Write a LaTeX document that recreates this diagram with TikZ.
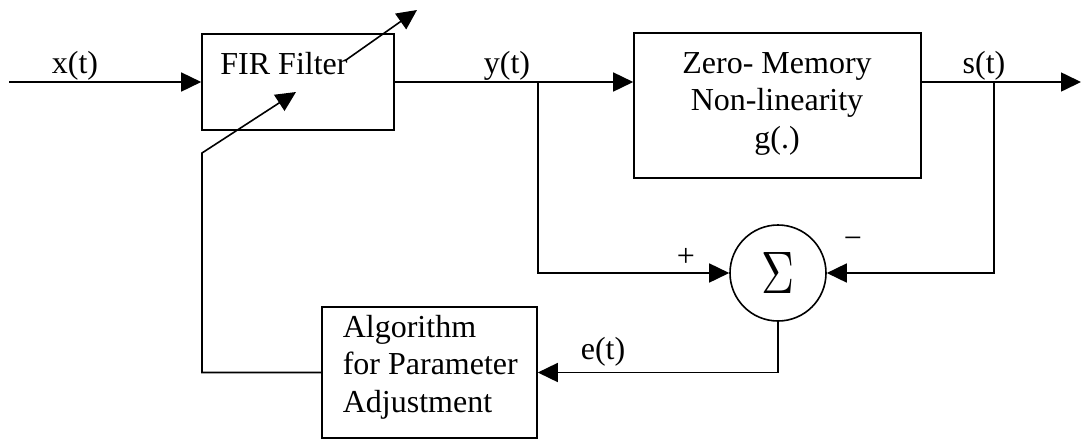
\documentclass[tikz,border=0pt]{standalone}
\usepackage{fontspec}
\usepackage{graphicx}
\setmainfont{Liberation Serif}
\usetikzlibrary{arrows.meta}
\begin{document}
\begin{tikzpicture}[x=1pt,y=-1pt,
  line width=1.6pt,
  >={Triangle[length=20pt,width=19pt]},
  blk/.style={draw, rectangle, inner sep=0pt, line width=1.6pt},
  lbl/.style={inner sep=0pt, font=\fontsize{32}{37.5}\selectfont},
]
\useasboundingbox (0,0) rectangle (1081,440);

% blocks
\node[blk, minimum width=192pt, minimum height=96pt] (fir) at (298,82) {};
\node[lbl, anchor=base] (firt) at (284,74) {FIR Filter};

\node[blk, minimum width=287pt, minimum height=145pt] (nl) at (777.5,105.5) {};
\node[lbl, anchor=base] (nl1) at (777,73) {Zero- Memory};
\node[lbl, anchor=base] (nl2) at (777,110.5) {Non-linearity};
\node[lbl, anchor=base] (nl3) at (777,148) {g(.)};

\node[draw, circle, minimum size=96pt, inner sep=0pt, line width=1.6pt] (sum) at (778,273)
  {\resizebox{33pt}{41pt}{$\Sigma$}};

\node[blk, minimum width=215pt, minimum height=131pt] (alg) at (429.5,372.5) {};
\node[lbl, anchor=base west] (al1) at (342,337) {Algorithm};
\node[lbl, anchor=base west] (al2) at (342,374.5) {for Parameter};
\node[lbl, anchor=base west] (al3) at (342,412) {Adjustment};

% junction / free-end coordinates
\coordinate (in) at (9,82);
\coordinate (yb) at (538,82);
\coordinate (sb) at (994,82);
\coordinate (out) at (1081,82);
\coordinate (ej) at (778,372.5);
\coordinate (fb) at (202,372.5);
\coordinate (fk) at (202,153);
\coordinate (ft) at (296,92);
\coordinate (a1) at (346,60);
\coordinate (a2) at (417,10);

% connectors
\draw[->] (in) -- (fir.west);
\draw (fir.east) -- (yb);
\draw[->] (yb) -- (nl.west |- yb);
\draw (nl.east |- sb) -- (sb);
\draw[->] (sb) -- (out);
\draw[->] (yb) |- (sum.west);
\draw[->] (sb) |- (sum.east);
\draw[->] (sum.south) -- (ej) -- (alg.east);
\draw[->] (alg.west) -- (fb) -- (fk) -- (ft);
\draw[->] (a1) -- (a2);

% signal labels
\node[lbl, anchor=base] (lx) at (75,73) {x(t)};
\node[lbl, anchor=base] (ly) at (507,73) {y(t)};
\node[lbl, anchor=base] (ls) at (984,73) {s(t)};
\node[lbl] (lp) at (686,257) {+};
\node[lbl] (lm) at (853,243) {−};
\node[lbl, anchor=base] (le) at (603,359) {e(t)};
\end{tikzpicture}
\end{document}
